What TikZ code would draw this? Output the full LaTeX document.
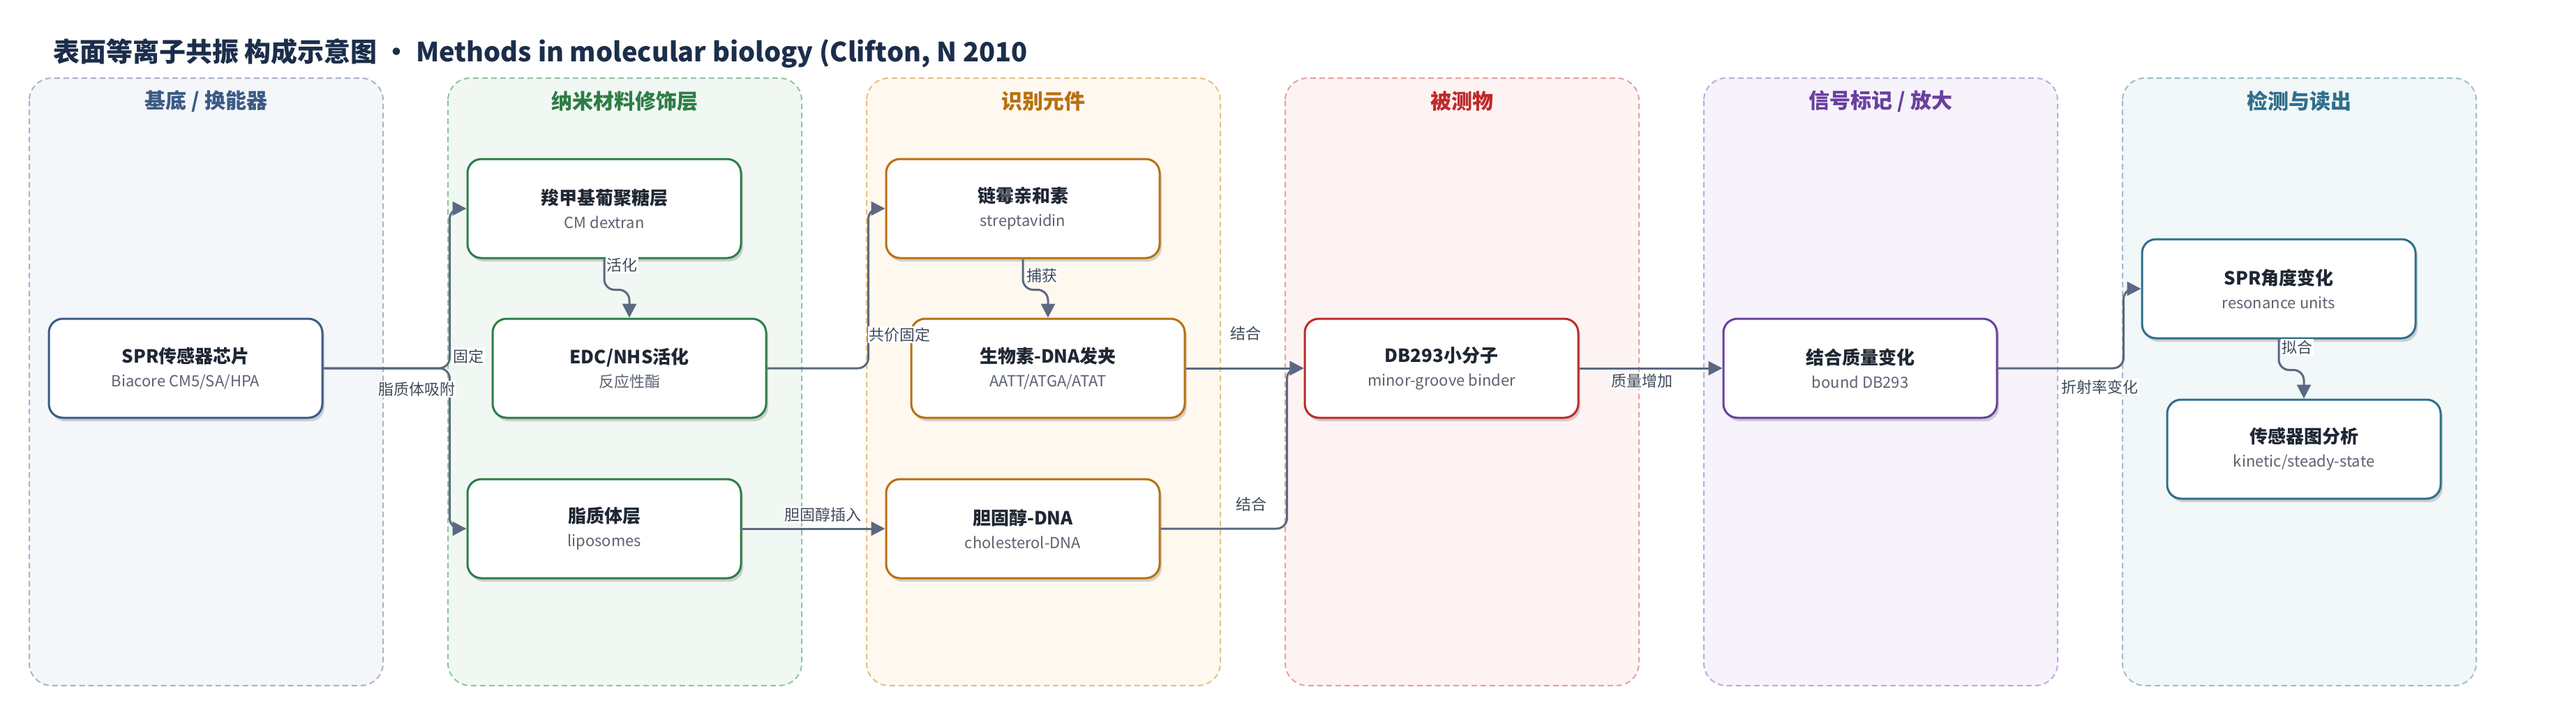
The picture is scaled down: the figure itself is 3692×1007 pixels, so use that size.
\documentclass[tikz,border=0pt]{standalone}
\usepackage{fontspec}
\setmainfont{Noto Sans CJK SC}
\usetikzlibrary{arrows.meta,shadows,calc}
\definecolor{titlec}{HTML}{1B2E4B}
\definecolor{edgec}{HTML}{5B6980}
\definecolor{labelc}{HTML}{3F4A5A}
\definecolor{textc}{HTML}{1E2733}
\definecolor{subc}{HTML}{5B6270}
% lane colours: fill, border, header / node
\definecolor{laAf}{HTML}{F4F6FA}\definecolor{laAb}{HTML}{A7B5C8}\definecolor{laAh}{HTML}{3B5B85}
\definecolor{laBf}{HTML}{F1F8F3}\definecolor{laBb}{HTML}{93C3A0}\definecolor{laBh}{HTML}{2E7D46}
\definecolor{laCf}{HTML}{FEF8EF}\definecolor{laCb}{HTML}{E5BF85}\definecolor{laCh}{HTML}{B8700F}
\definecolor{laDf}{HTML}{FEF3F3}\definecolor{laDb}{HTML}{E8A0A0}\definecolor{laDh}{HTML}{BE2A2A}
\definecolor{laEf}{HTML}{F6F3FB}\definecolor{laEb}{HTML}{C1A9DC}\definecolor{laEh}{HTML}{6B3FA0}
\definecolor{laFf}{HTML}{F2F7F8}\definecolor{laFb}{HTML}{9DBFCB}\definecolor{laFh}{HTML}{2F6F8C}
\newcommand{\nodetxt}[2]{{\fontsize{26}{34}\selectfont\bfseries\color{textc}#1}\\{\fontsize{22}{34}\selectfont\color{subc}#2}}
\tikzset{
  lanebox/.style={draw=#1, dash pattern=on 8pt off 5pt, line width=2pt, rounded corners=32pt},
  header/.style={font=\fontsize{30}{36}\selectfont\bfseries, text=#1},
  box/.style={draw=#1, line width=3pt, rounded corners=20pt, fill=white,
    minimum width=392pt, minimum height=142pt, align=center, inner sep=0pt,
    font=\fontsize{26}{34}\selectfont,
    drop shadow={shadow xshift=3pt, shadow yshift=-5pt, opacity=0.16, fill=black}},
  edge/.style={draw=edgec, line width=3pt, rounded corners=15pt, -{Triangle[length=20pt,width=20pt]}},
  elabel/.style={fill=white, text=labelc, font=\fontsize{22}{26}\selectfont, inner sep=1.5pt},
}
\begin{document}
\begin{tikzpicture}[x=1pt,y=-1pt]
\useasboundingbox[fill=white] (0,0) rectangle (3692,1007);
% title
\node[anchor=west, text=titlec, font=\fontsize{38}{46}\selectfont\bfseries, inner sep=0pt] (title) at (76,76)
  {表面等离子共振 构成示意图 • Methods in molecular biology (Clifton, N 2010};
% lanes
\foreach \k/\c/\t in {0/A/{基底 / 换能器}, 1/B/{纳米材料修饰层}, 2/C/{识别元件}, 3/D/{被测物}, 4/E/{信号标记 / 放大}, 5/F/{检测与读出}}{
  \path[lanebox=la\c b, fill=la\c f] (42+600*\k,112) rectangle (549+600*\k,983);
  \node[header=la\c h] (h\k) at (295.5+600*\k,145) {\t};
}
% nodes
\node[box=laAh] (spr) at (266,528) {\nodetxt{SPR传感器芯片}{Biacore CM5/SA/HPA}};
\node[box=laBh] (cm) at (866,299) {\nodetxt{羧甲基葡聚糖层}{CM dextran}};
\node[box=laBh] (edc) at (902,528) {\nodetxt{EDC/NHS活化}{反应性酯}};
\node[box=laBh] (lip) at (866,758) {\nodetxt{脂质体层}{liposomes}};
\node[box=laCh] (strep) at (1466,299) {\nodetxt{链霉亲和素}{streptavidin}};
\node[box=laCh] (bio) at (1502,528) {\nodetxt{生物素-DNA发夹}{AATT/ATGA/ATAT}};
\node[box=laCh] (chol) at (1466,758) {\nodetxt{胆固醇-DNA}{cholesterol-DNA}};
\node[box=laDh] (db) at (2066,528) {\nodetxt{DB293小分子}{minor-groove binder}};
\node[box=laEh] (mass) at (2666,528) {\nodetxt{结合质量变化}{bound DB293}};
\node[box=laFh] (ang) at (3266,414) {\nodetxt{SPR角度变化}{resonance units}};
\node[box=laFh] (ana) at (3302,644) {\nodetxt{传感器图分析}{kinetic/steady-state}};
% edges
\draw[edge] (spr.east) -- ++(181,0) |- (cm.west);
\draw[edge] (spr.east) -- ++(181,0) |- (lip.west);
\draw[edge] (cm.south) -- ++(0,44) -| (edc.north);
\draw[edge] (edc.east) -- ++(145,0) |- (strep.west);
\draw[edge] (lip.east) -- (chol.west);
\draw[edge] (strep.south) -- ++(0,44) -| (bio.north);
\draw[edge] (bio.east) -- (db.west);
\draw[edge] (chol.east) -- ++(181,0) |- (db.west);
\draw[edge] (db.east) -- (mass.west);
\draw[edge] (mass.east) -- ++(180,0) |- (ang.west);
\draw[edge] (ang.south) -- ++(0,44) -| (ana.north);
% edge labels
\node[elabel] (l1) at (671,511) {固定};
\node[elabel] (l2) at (597,558) {脂质体吸附};
\node[elabel] (l3) at (891,380) {活化};
\node[elabel] (l4) at (1289,480) {共价固定};
\node[elabel] (l5) at (1179,738) {胆固醇插入};
\node[elabel] (l6) at (1493,395) {捕获};
\node[elabel] (l7) at (1785,478) {结合};
\node[elabel] (l8) at (1793,723) {结合};
\node[elabel] (l9) at (2353,546) {质量增加};
\node[elabel] (l10) at (3009,555) {折射率变化};
\node[elabel] (l11) at (3292,498) {拟合};
\end{tikzpicture}
\end{document}
